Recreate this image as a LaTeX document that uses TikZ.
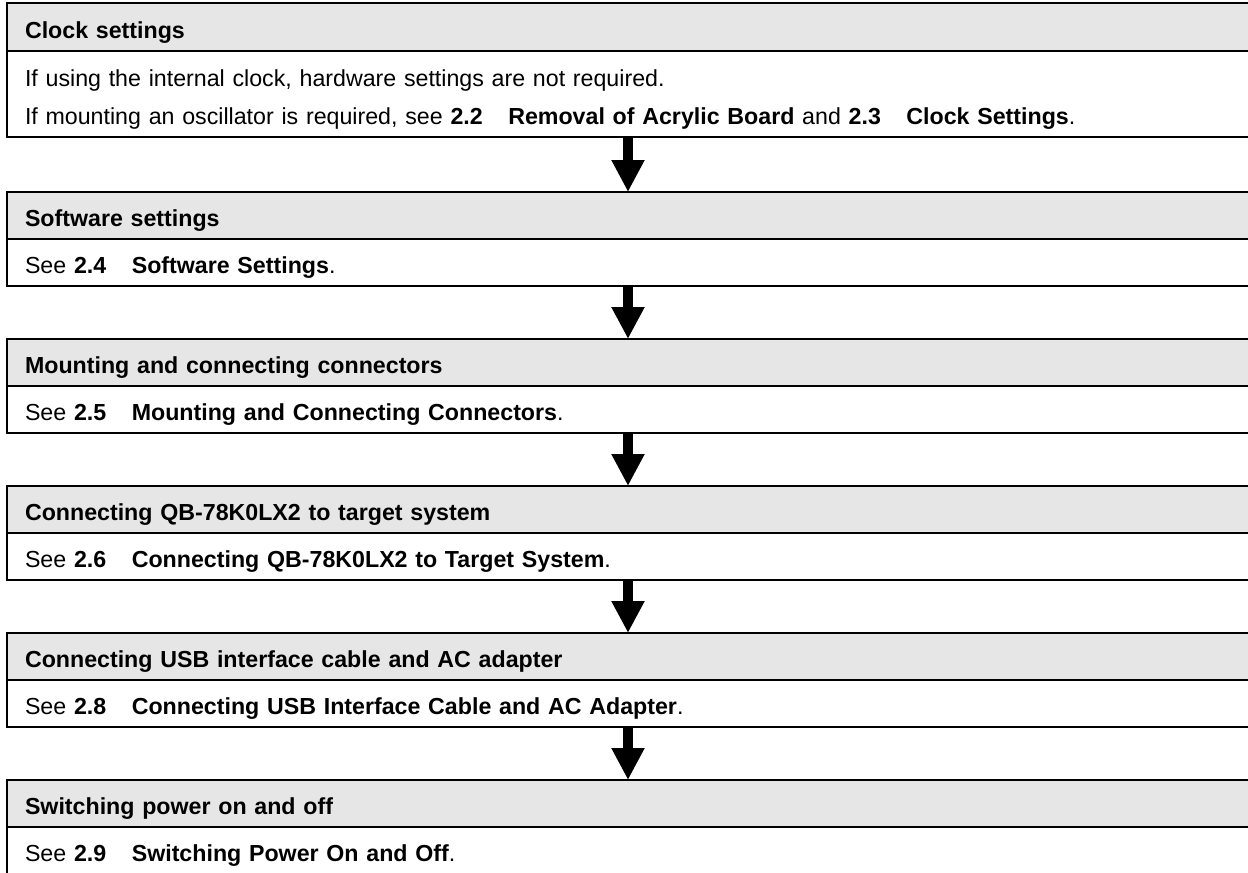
\documentclass[tikz,border=0pt]{standalone}
\usepackage{fontspec}
\setmainfont{Liberation Sans}
\usetikzlibrary{arrows.meta}
\usetikzlibrary{positioning}
\definecolor{headgray}{RGB}{230,230,230}
\newcommand{\stepfont}{\fontsize{23.2}{27}\selectfont}
\newcommand{\refsec}[2]{\textbf{#1\hspace{1.1em}#2}}
\tikzset{
  % bands of one step
  head/.style={draw, line width=1.6pt, fill=headgray, anchor=north west, outer sep=0pt,
    minimum width=1270pt, minimum height=#1, text width=1234pt,
    text height=22pt, text depth=0pt,
    inner xsep=18pt, align=left, font=\stepfont\bfseries},
  head/.default=47pt,
  body/.style={draw, line width=1.6pt, anchor=north west, outer sep=0pt,
    minimum width=1270pt, minimum height=#1, text width=1234pt,
    text height=22pt, text depth=0pt,
    inner xsep=18pt, align=left, font=\stepfont},
  body/.default=47pt,
  % thick arrow between steps
  flow/.style={line width=10pt, -{Triangle[width=31pt,length=32pt]}}
}

\begin{document}
\begin{tikzpicture}[x=1pt, y=-1pt]
    \useasboundingbox (0,0) rectangle (1248,873);
    \coordinate (axis) at (628,0);

    % Steps
    \node[head=48pt] (h1) at (7,3) {Clock settings};
    \node[body=86pt, text height=, text depth=, below=0pt of h1.south west, anchor=north west] (b1)
      {\rule{0pt}{27pt}If using the internal clock, hardware settings are not required.\\[11pt]
       If mounting an oscillator is required, see \refsec{2.2}{Removal of Acrylic Board} and \refsec{2.3}{Clock Settings}.\rule[-5pt]{0pt}{5pt}};

    \node[head, below=55pt of b1.south west, anchor=north west] (h2) {Software settings};
    \node[body, below=0pt of h2.south west, anchor=north west] (b2) {See \refsec{2.4}{Software Settings}.};

    \node[head, below=53pt of b2.south west, anchor=north west] (h3) {Mounting and connecting connectors};
    \node[body, below=0pt of h3.south west, anchor=north west] (b3) {See \refsec{2.5}{Mounting and Connecting Connectors}.};

    \node[head, below=53pt of b3.south west, anchor=north west] (h4) {Connecting QB-78K0LX2 to target system};
    \node[body, below=0pt of h4.south west, anchor=north west] (b4) {See \refsec{2.6}{Connecting QB-78K0LX2 to Target System}.};

    \node[head, below=53pt of b4.south west, anchor=north west] (h5) {Connecting USB interface cable and AC adapter};
    \node[body, below=0pt of h5.south west, anchor=north west] (b5) {See \refsec{2.8}{Connecting USB Interface Cable and AC Adapter}.};

    \node[head, below=53pt of b5.south west, anchor=north west] (h6) {Switching power on and off};
    \node[body, below=0pt of h6.south west, anchor=north west] (b6) {See \refsec{2.9}{Switching Power On and Off}.};

    % Arrows
    \draw[flow] (b1.south -| axis) -- (h2.north -| axis);
    \draw[flow] (b2.south -| axis) -- (h3.north -| axis);
    \draw[flow] (b3.south -| axis) -- (h4.north -| axis);
    \draw[flow] (b4.south -| axis) -- (h5.north -| axis);
    \draw[flow] (b5.south -| axis) -- (h6.north -| axis);
\end{tikzpicture}
\end{document}
